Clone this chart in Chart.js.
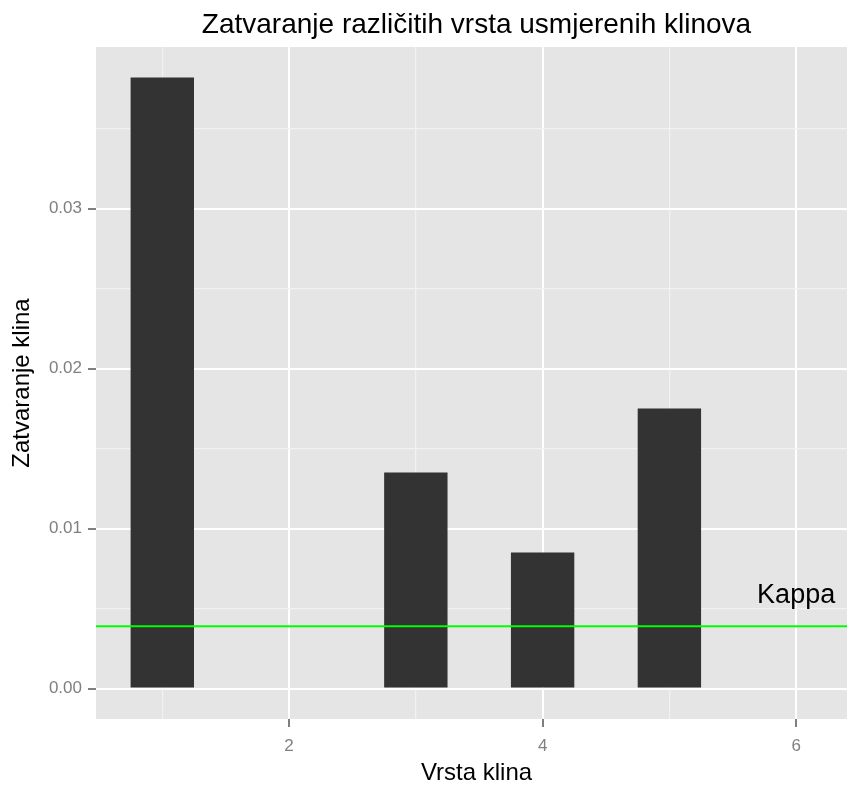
<!DOCTYPE html>
<html>
<head>
<meta charset="utf-8">
<title>Zatvaranje klinova</title>
<script src="https://cdn.jsdelivr.net/npm/chart.js@4.4.1/dist/chart.umd.min.js"></script>
<style>
  html, body { margin: 0; padding: 0; background: #fff; overflow: hidden; }
</style>
</head>
<body>
<canvas id="wedgeChart" width="857" height="785"></canvas>
<script>
// data
const wedgeTypes = [1, 3, 4, 5];
const closureValues = [0.0382, 0.0135, 0.0085, 0.0175];
const kappaValue = 0.0039;
const kappaLabel = 'Kappa';
const kappaLabelX = 6;
const kappaLabelY = 0.0058;

const xMajorTicks = [2, 4, 6];
const xMinorTicks = [1, 3, 5];
const yMajorTicks = [0, 0.01, 0.02, 0.03];
const yMinorTicks = [0.005, 0.015, 0.025, 0.035];

const FONT = "'Liberation Sans', Arial, sans-serif";

function mergeTicks(major, minor) {
  return major.concat(minor).sort((a, b) => a - b).map(v => ({ value: v }));
}

// grey panel behind the grid
const panelBackground = {
  id: 'panelBackground',
  beforeDraw(chart) {
    const { ctx, chartArea: a } = chart;
    ctx.save();
    ctx.fillStyle = '#E5E5E5';
    ctx.fillRect(a.left, a.top, a.right - a.left, a.bottom - a.top);
    ctx.restore();
  }
};

// horizontal kappa line + its label
const kappaLine = {
  id: 'kappaLine',
  afterDatasetsDraw(chart) {
    const { ctx, chartArea: a, scales } = chart;
    const y = scales.y.getPixelForValue(kappaValue);
    ctx.save();
    ctx.strokeStyle = '#00FF00';
    ctx.lineWidth = 2;
    ctx.beginPath();
    ctx.moveTo(a.left, y);
    ctx.lineTo(a.right, y);
    ctx.stroke();
    ctx.fillStyle = '#000';
    ctx.font = '27px ' + FONT;
    ctx.textAlign = 'center';
    ctx.textBaseline = 'middle';
    ctx.fillText(kappaLabel, scales.x.getPixelForValue(kappaLabelX), scales.y.getPixelForValue(kappaLabelY));
    ctx.restore();
  }
};

const ctx = document.getElementById('wedgeChart').getContext('2d');
new Chart(ctx, {
  type: 'bar',
  data: {
    datasets: [{
      data: wedgeTypes.map((x, i) => ({ x: x, y: closureValues[i] })),
      backgroundColor: '#333333',
      borderWidth: 0,
      categoryPercentage: 1,
      barPercentage: 0.5
    }]
  },
  options: {
    responsive: false,
    animation: false,
    layout: { padding: 0 },
    plugins: {
      legend: { display: false },
      tooltip: { enabled: false },
      title: {
        display: true,
        text: 'Zatvaranje različitih vrsta usmjerenih klinova',
        fullSize: false,
        color: '#000',
        font: { family: FONT, size: 28, weight: 'normal', lineHeight: 1 },
        padding: { top: 11, bottom: 8 }
      }
    },
    scales: {
      x: {
        type: 'linear',
        min: 0.477,
        max: 6.48,
        offset: false,
        border: { display: false },
        afterBuildTicks: s => { s.ticks = mergeTicks(xMajorTicks, xMinorTicks); },
        afterFit: s => { s.height = 66; },
        grid: {
          offset: false,
          color: c => xMajorTicks.includes(c.tick.value) ? '#FFFFFF' : '#F2F2F2',
          lineWidth: c => xMajorTicks.includes(c.tick.value) ? 2 : 1.2,
          tickColor: c => xMajorTicks.includes(c.tick.value) ? '#7F7F7F' : 'rgba(0,0,0,0)',
          tickLength: 8,
          tickWidth: 2
        },
        ticks: {
          autoSkip: false,
          maxRotation: 0,
          padding: 9,
          color: '#7F7F7F',
          font: { family: FONT, size: 17 },
          callback: v => xMajorTicks.includes(v) ? String(v) : ''
        },
        title: {
          display: true,
          text: 'Vrsta klina',
          color: '#000',
          font: { family: FONT, size: 24, lineHeight: 1 },
          padding: { top: 0, bottom: 0 }
        }
      },
      y: {
        type: 'linear',
        min: -0.0019,
        max: 0.0401,
        border: { display: false },
        afterBuildTicks: s => { s.ticks = mergeTicks(yMajorTicks, yMinorTicks); },
        afterFit: s => { s.width = 96; },
        grid: {
          color: c => yMajorTicks.includes(c.tick.value) ? '#FFFFFF' : '#F2F2F2',
          lineWidth: c => yMajorTicks.includes(c.tick.value) ? 2 : 1.2,
          tickColor: c => yMajorTicks.includes(c.tick.value) ? '#7F7F7F' : 'rgba(0,0,0,0)',
          tickLength: 8,
          tickWidth: 2
        },
        ticks: {
          autoSkip: false,
          padding: 6,
          color: '#7F7F7F',
          font: { family: FONT, size: 17 },
          callback: v => yMajorTicks.includes(v) ? v.toFixed(2) : ''
        },
        title: {
          display: true,
          text: 'Zatvaranje klina',
          color: '#000',
          font: { family: FONT, size: 24, lineHeight: 1 },
          padding: { top: 10, bottom: 0 }
        }
      }
    }
  },
  plugins: [panelBackground, kappaLine]
});
</script>
</body>
</html>
